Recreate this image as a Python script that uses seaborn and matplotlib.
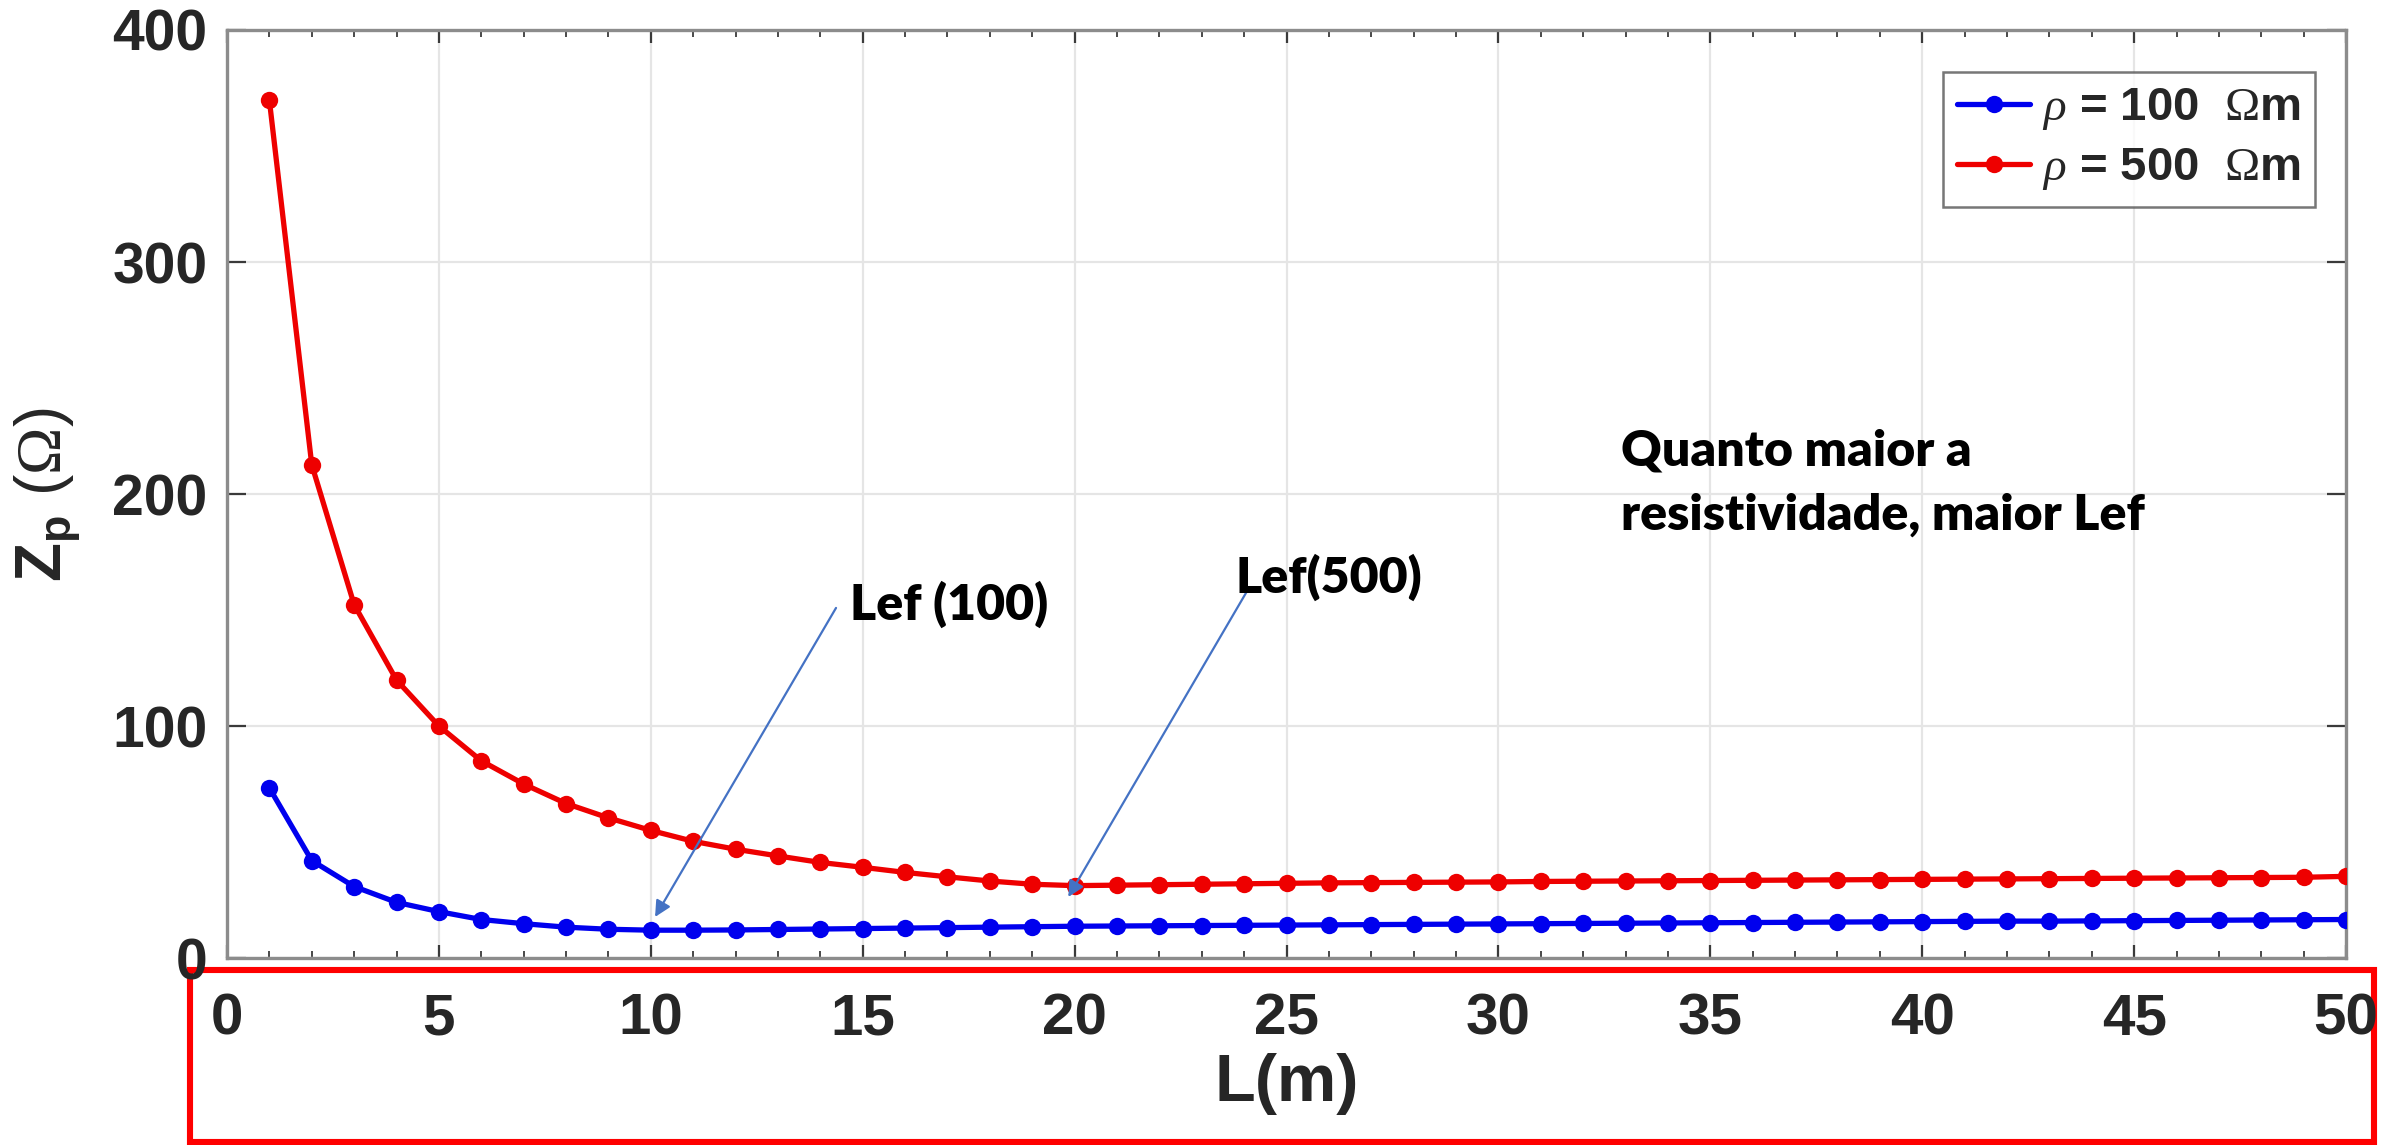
import numpy as np
import pandas as pd
import matplotlib
matplotlib.use("Agg")
import matplotlib.pyplot as plt
from matplotlib.patches import Rectangle
import seaborn as sns

# ---------------- data ----------------
L_m = list(range(1, 51))
z_rho100 = [73.3, 42.0, 30.8, 24.0, 20.0, 16.6, 14.8, 13.3, 12.4, 12.0,
            12.0, 12.1, 12.3, 12.5, 12.7, 12.9, 13.1, 13.3, 13.5, 13.7,
            13.8, 13.9, 14.0, 14.1, 14.2, 14.3, 14.4, 14.5, 14.6, 14.7,
            14.8, 14.9, 15.0, 15.1, 15.2, 15.3, 15.4, 15.5, 15.6, 15.7,
            15.8, 15.9, 15.9, 16.0, 16.1, 16.2, 16.3, 16.4, 16.5, 16.6]
z_rho500 = [369.7, 212.6, 152.3, 119.8, 100.0, 85.0, 75.0, 66.6, 60.4, 55.0,
            50.3, 46.9, 44.0, 41.2, 39.1, 36.9, 35.0, 33.2, 31.8, 31.2,
            31.4, 31.6, 31.8, 32.0, 32.2, 32.4, 32.5, 32.6, 32.7, 32.8,
            33.0, 33.1, 33.2, 33.3, 33.4, 33.5, 33.6, 33.7, 33.8, 33.9,
            34.0, 34.1, 34.2, 34.3, 34.4, 34.5, 34.6, 34.7, 34.8, 35.2]
series_labels = [r'$\rho$ = 100  $\Omega$m', r'$\rho$ = 500  $\Omega$m']
series_colors = ['#0000ee', '#ee0000']
x_ticks = [0, 5, 10, 15, 20, 25, 30, 35, 40, 45, 50]
y_ticks = [0, 100, 200, 300, 400]
x_label = 'L(m)'
y_label = r'$\mathbf{Z_p}$ ($\Omega$)'
ann_lef100 = 'Lef (100)'
ann_lef500 = 'Lef(500)'
note_lines = ['Quanto maior a', 'resistividade, maior Lef']

df = pd.DataFrame({
    'L': L_m + L_m,
    'Z': z_rho100 + z_rho500,
    'serie': [series_labels[0]] * len(L_m) + [series_labels[1]] * len(L_m),
})

# ---------------- style ----------------
sns.set_style("white")
plt.rcParams['font.family'] = ['Liberation Sans', 'DejaVu Sans']
plt.rcParams['mathtext.fontset'] = 'custom'
plt.rcParams['mathtext.rm'] = 'Liberation Serif'
plt.rcParams['mathtext.it'] = 'Liberation Serif:italic'
plt.rcParams['mathtext.bf'] = 'Liberation Sans:bold'

fig = plt.figure(figsize=(23.92, 11.45), dpi=100)
ax = fig.add_axes([0.0949, 0.1633, 0.8859, 0.8105])

sns.lineplot(data=df, x='L', y='Z', hue='serie', hue_order=series_labels,
             palette=series_colors, marker='o', markersize=12.5,
             markeredgewidth=0, linewidth=3.8, ax=ax, zorder=5)

ax.set_xlim(0, 50)
ax.set_ylim(0, 400)
ax.set_xticks(x_ticks)
ax.set_xticks(np.arange(0, 51, 1), minor=True)
ax.set_yticks(y_ticks)

ax.grid(True, which='major', color='#e5e5e5', linewidth=1.6)
ax.set_axisbelow(True)

for s in ax.spines.values():
    s.set_color('#8c8c8c')
    s.set_linewidth(2.4)

ax.tick_params(axis='x', which='major', direction='in', length=9.5, width=1.6,
               color='#3a3a3a', top=True, bottom=True, pad=25, labelsize=42,
               labelcolor='#262626')
ax.tick_params(axis='x', which='minor', direction='in', length=5, width=1.3,
               color='#3a3a3a', top=True, bottom=True)
ax.tick_params(axis='y', which='major', direction='in', length=14, width=1.6,
               color='#3a3a3a', left=True, right=True, pad=14, labelsize=41,
               labelcolor='#262626')
for t in ax.get_xticklabels() + ax.get_yticklabels():
    t.set_fontweight('bold')

ax.set_xlabel(x_label, fontsize=48, fontweight='bold', color='#262626')
ax.xaxis.set_label_coords(0.5, -0.102)
ax.xaxis.label.set_va('top')

ax.set_ylabel(y_label, fontsize=46, fontweight='normal', color='#262626')
ax.yaxis.set_label_coords(-0.0845, 0.499)
ax.yaxis.label.set_va('center')

# legend
handles, labels = ax.get_legend_handles_labels()
leg = ax.legend(handles, labels, loc='upper right',
                bbox_to_anchor=(0.9854, 0.9547), borderaxespad=0,
                frameon=True, fancybox=False,
                handlelength=1.55, handletextpad=0.25, labelspacing=0.3,
                borderpad=0.3, prop={'family': 'Liberation Sans',
                                     'weight': 'bold', 'size': 34})
leg.get_frame().set_edgecolor('#555555')
leg.get_frame().set_linewidth(1.8)
leg.set_zorder(20)

# annotations
arrow_kw = dict(arrowstyle='-|>', color='#4472C4', lw=1.6, mutation_scale=24,
                shrinkA=0, shrinkB=0)
ax.annotate('', xy=(10.1, 17.7), xytext=(14.37, 150.9), arrowprops=arrow_kw,
            zorder=15)
ax.annotate('', xy=(19.85, 26.3), xytext=(24.07, 158.2), arrowprops=arrow_kw,
            zorder=15)
txt_kw = dict(fontsize=36, fontweight='heavy', fontfamily=['Lato', 'DejaVu Sans'],
              color='black', va='baseline', ha='left', zorder=15)
ax.text(14.7, 145.7, ann_lef100, **txt_kw)
ax.text(23.8, 157.3, ann_lef500, **txt_kw)
ax.text(32.89, 212.5, note_lines[0], **txt_kw)
ax.text(32.89, 184.5, note_lines[1], **txt_kw)

# red frame around the x-axis area
rect = Rectangle((0.0794, 0.0022), 0.9130, 0.1506, transform=fig.transFigure,
                 facecolor='none', edgecolor='#ff0000', linewidth=4.4,
                 zorder=-1)
fig.add_artist(rect)

fig.savefig('out.png', dpi=100)
